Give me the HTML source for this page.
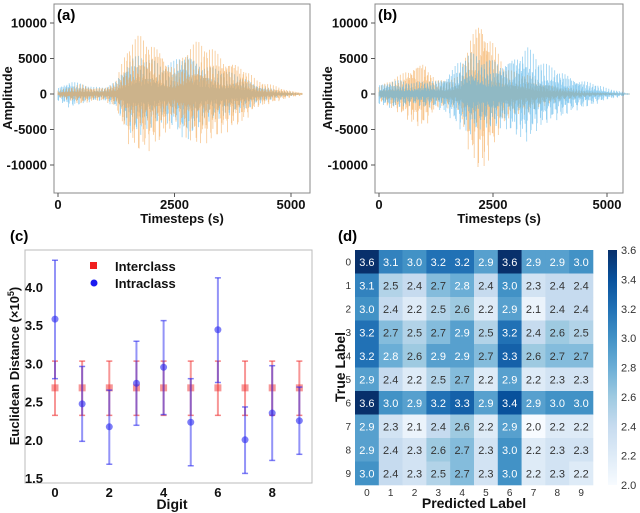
<!DOCTYPE html>
<html><head><meta charset="utf-8"><style>
html,body{margin:0;padding:0;background:#fff;}
svg{display:block;font-family:"Liberation Sans",Arial,sans-serif;}
.tk{font-size:13px;font-weight:bold;fill:#111;}
.lab{font-size:13px;font-weight:bold;fill:#111;}
</style></head><body>
<svg id="fig" width="640" height="513" viewBox="0 0 640 513"></svg>
<script>
// ---------- data ----------
const waveStep = 250; // timesteps per envelope entry
const aBlueEnv = [1,2,1.5,1,1,2,5.5,6,5,4,5,7,5,4,3.5,3,2.5,1.5,1,0.5,0.3,0];
const aOrangeEnv = [0.5,1,1.5,1,1,2,7,8.5,8,6.5,4,6.5,7.5,7,6,5,4,2,1.5,1,0.5,0.2];
const bBlueEnv = [1.5,2,2,1.5,2,2,3,5,6,5,5,5,6,7,5,4,3.5,2.5,2,1.5,0.8,0.5,0];
const bOrangeEnv = [1,2,3,4.5,5,2,2,2.5,9,12,8,4,3,3,2,1.5,1,0.8,0.5,0.3,0.2,0.1,0.05];
const waveXTicks = [0,2500,5000];
const waveYTicks = [10000,5000,0,-5000,-10000];

const digits = [0,1,2,3,4,5,6,7,8,9];
const interMean = [2.68,2.68,2.68,2.68,2.68,2.68,2.68,2.68,2.68,2.68];
const interLo = [2.32,2.32,2.32,2.32,2.32,2.32,2.32,2.32,2.32,2.32];
const interHi = [3.03,3.03,3.03,3.03,3.03,3.03,3.03,3.03,3.03,3.03];
const intraMean = [3.58,2.47,2.17,2.74,2.95,2.23,3.44,2.0,2.35,2.25];
const intraLo = [2.8,1.98,1.68,2.19,2.33,1.66,2.75,1.56,1.73,1.81];
const intraHi = [4.35,2.96,2.65,3.29,3.56,2.8,4.12,2.43,2.97,2.69];
const cXTicks = [0,2,4,6,8];
const cYTicks = [1.5,2.0,2.5,3.0,3.5,4.0];

const heatLabels = [0,1,2,3,4,5,6,7,8,9];
const heatVals = [
 [3.6,3.1,3.0,3.2,3.2,2.9,3.6,2.9,2.9,3.0],
 [3.1,2.5,2.4,2.7,2.8,2.4,3.0,2.3,2.4,2.4],
 [3.0,2.4,2.2,2.5,2.6,2.2,2.9,2.1,2.4,2.4],
 [3.2,2.7,2.5,2.7,2.9,2.5,3.2,2.4,2.6,2.5],
 [3.2,2.8,2.6,2.9,2.9,2.7,3.3,2.6,2.7,2.7],
 [2.9,2.4,2.2,2.5,2.7,2.2,2.9,2.2,2.3,2.3],
 [3.6,3.0,2.9,3.2,3.3,2.9,3.4,2.9,3.0,3.0],
 [2.9,2.3,2.1,2.4,2.6,2.2,2.9,2.0,2.2,2.2],
 [2.9,2.4,2.3,2.6,2.7,2.3,3.0,2.2,2.3,2.3],
 [3.0,2.4,2.3,2.5,2.7,2.3,3.0,2.2,2.3,2.2]];
const cbTicks = [3.6,3.4,3.2,3.0,2.8,2.6,2.4,2.2,2.0];

// ---------- helpers ----------
const NS="http://www.w3.org/2000/svg";
const svg=document.getElementById('fig');
function el(tag,attrs,parent,text){const e=document.createElementNS(NS,tag);for(const k in attrs)e.setAttribute(k,attrs[k]);if(text!==undefined)e.textContent=text;(parent||svg).appendChild(e);return e;}

// ---------- waveform panels ----------
function wavePanel(px,box,x0,x5000,blue,orange,letter,orangeFirst){
  const g=el('g',{});
  
  
  const sx=t=>x0+(x5000-x0)*t/5000;
  const sy=v=>94-v*7.1/1000;
  const frame=el('rect',{x:box[0],y:box[1],width:box[2]-box[0],height:box[3]-box[1],fill:'none',stroke:'#888','stroke-width':1},g);
  
  
  function series(env,color,name,phase){
    const sg=el('g',{stroke:color,'stroke-width':0.8,opacity:0.6},g);
    
    
    let d='';
    const maxT=(env.length-1)*waveStep;
    for(let t=0;t<=maxT;t+=12){
      const i=Math.min(Math.floor(t/waveStep),env.length-2);
      const f=(t-i*waveStep)/waveStep;
      const e=(env[i]*(1-f)+env[i+1]*f)*1000;
      const m1=0.2+0.8*Math.pow(Math.abs(Math.sin(t*0.37+phase)*Math.cos(t*0.053)),1.1);
      const m2=0.2+0.8*Math.pow(Math.abs(Math.cos(t*0.29+phase)*Math.sin(t*0.071+1)),1.1);
      d+=`M${sx(t).toFixed(1)},${sy(e*m1).toFixed(1)}V${sy(-e*m2).toFixed(1)}`;
    }
    el('path',{d:d,fill:'none'},sg);
    el('line',{x1:sx(0),x2:sx(maxT),y1:sy(0),y2:sy(0)},sg);
  }
  if(orangeFirst){series(orange,'#f3a248','orange-series',1.3);series(blue,'#4db0e8','blue-series',0);}
  else{series(blue,'#4db0e8','blue-series',0);series(orange,'#f3a248','orange-series',1.3);}
  waveXTicks.forEach(v=>{
    el('line',{x1:sx(v),x2:sx(v),y1:box[3],y2:box[3]+4,stroke:'#555'},g);
    const t=el('text',{x:sx(v),y:box[3]+16,'text-anchor':'middle',class:'tk'},g,v);
    
    
  });
  waveYTicks.forEach(v=>{
    el('line',{x1:box[0]-4,x2:box[0],y1:sy(v),y2:sy(v),stroke:'#555'},g);
    const t=el('text',{x:box[0]-7,y:sy(v)+4.5,'text-anchor':'end',class:'tk'},g,v);
    
    
  });
  const xl=el('text',{x:(box[0]+box[2])/2,y:223,'text-anchor':'middle',class:'lab'},g,'Timesteps (s)');
  
  
  const yl=el('text',{x:0,y:0,'text-anchor':'middle',class:'lab',transform:`translate(${px+12},98) rotate(-90)`},g,'Amplitude');
  
  
  const pl=el('text',{x:box[0]+3,y:20,style:'font-size:15px;font-weight:bold'},g,'('+letter+')');
  
  
}
wavePanel(0,[54,4,310,193],58,291,aBlueEnv,aOrangeEnv,'a',false);
wavePanel(320,[375,4,623,193],379,607,bBlueEnv,bOrangeEnv,'b',true);

// ---------- panel c ----------
(function(){
  const g=el('g',{});
  
  
  const sx=d=>55+d*27.15;
  const sy=v=>478-(v-1.5)*76.4;
  const fr=el('rect',{x:25,y:250,width:287,height:233,fill:'none',stroke:'#bbb'},g);
  
  
  function bars(mean,lo,hi,color,name,marker){
    const sg=el('g',{},g);
    
    
    digits.forEach((d,i)=>{
      const x=sx(d);
      el('line',{x1:x,x2:x,y1:sy(lo[i]),y2:sy(hi[i]),stroke:color,'stroke-width':2,opacity:0.5},sg);
      el('line',{x1:x-3,x2:x+3,y1:sy(lo[i]),y2:sy(lo[i]),stroke:color,'stroke-width':1.5,opacity:0.6},sg);
      el('line',{x1:x-3,x2:x+3,y1:sy(hi[i]),y2:sy(hi[i]),stroke:color,'stroke-width':1.5,opacity:0.6},sg);
      if(marker==='sq') el('rect',{x:x-3.5,y:sy(mean[i])-3.5,width:7,height:7,fill:color,opacity:0.5},sg);
      else el('circle',{cx:x,cy:sy(mean[i]),r:3.5,fill:color,opacity:0.6},sg);
    });
  }
  bars(interMean,interLo,interHi,'#f03030','interclass-errorbars','sq');
  bars(intraMean,intraLo,intraHi,'#2a2af0','intraclass-errorbars','ci');
  cXTicks.forEach(v=>{
    const t=el('text',{x:sx(v),y:497,'text-anchor':'middle',class:'tk'},g,v);
    
    
  });
  cYTicks.forEach(v=>{
    const t=el('text',{x:43,y:sy(v)+5,'text-anchor':'end',class:'tk'},g,v.toFixed(1));
    
    
  });
  const xl=el('text',{x:172,y:509,'text-anchor':'middle',class:'lab',style:'font-size:14px'},g,'Digit');
  
  
  const yl=el('text',{x:0,y:0,'text-anchor':'middle',class:'lab'},g);
  yl.setAttribute('transform','translate(19,366) rotate(-90)');
  yl.innerHTML='Euclidean Distance (×10<tspan dy="-5" font-size="9">5</tspan><tspan dy="5">)</tspan>';
  
  
  const lg=el('g',{},g);
  
  
  el('rect',{x:90,y:262,width:7,height:7,fill:'#f02020'},lg);
  const l1=el('text',{x:115,y:271,class:'lab'},lg,'Interclass');
  
  
  el('circle',{cx:94,cy:283,r:3.5,fill:'#1a1af0'},lg);
  const l2=el('text',{x:115,y:288,class:'lab'},lg,'Intraclass');
  
  
  const pl=el('text',{x:10,y:241,style:'font-size:15px;font-weight:bold'},g,'(c)');
  
  
})();

// ---------- panel d heatmap ----------
(function(){
  const stops=[[247,251,255],[222,235,247],[198,219,239],[158,202,225],[107,174,214],[66,146,198],[33,113,181],[8,81,156],[8,48,107]];
  const cmap=v=>{let t=Math.max(0,Math.min(1,(v-2.0)/1.6))*(stops.length-1);const i=Math.min(Math.floor(t),stops.length-2);const f=t-i;
    const c=stops[i].map((a,k)=>Math.round(a+(stops[i+1][k]-a)*f));return `rgb(${c[0]},${c[1]},${c[2]})`;};
  const g=el('g',{});
  
  
  const x0=355,y0=250,cw=23.8,ch=23.5;
  heatVals.forEach((row,r)=>row.forEach((v,c)=>{
    const cell=el('rect',{x:x0+c*cw,y:y0+r*ch,width:cw+0.3,height:ch+0.3,fill:cmap(v)},g);
    
    
    el('text',{x:x0+c*cw+cw/2,y:y0+r*ch+ch/2+4,'text-anchor':'middle',style:'font-size:11px',fill:v>=2.8?'#fff':'#333'},g,v.toFixed(1));
  }));
  heatLabels.forEach((l,i)=>{
    const t=el('text',{x:x0-4,y:y0+i*ch+ch/2+3.5,'text-anchor':'end',style:'font-size:10px',fill:'#333'},g,l);
    
    
    const t2=el('text',{x:x0+i*cw+cw/2,y:496,'text-anchor':'middle',style:'font-size:10px',fill:'#333'},g,l);
    
    
  });
  const xl=el('text',{x:474,y:508,'text-anchor':'middle',class:'lab',style:'font-size:14px'},g,'Predicted Label');
  
  
  const yl=el('text',{x:0,y:0,'text-anchor':'middle',class:'lab',style:'font-size:14px',transform:'translate(345,367) rotate(-90)'},g,'True Label');
  
  
  const defs=el('defs',{},g);
  const lgd=el('linearGradient',{id:'cbg',x1:0,y1:1,x2:0,y2:0},defs);
  stops.forEach((s,i)=>el('stop',{offset:i/(stops.length-1),'stop-color':`rgb(${s})`},lgd));
  const cb=el('rect',{x:608,y:250,width:9,height:235,fill:'url(#cbg)'},g);
  
  
  cbTicks.forEach(v=>{
    const y=485-(v-2.0)/1.6*235;
    const t=el('text',{x:621,y:y+4,style:'font-size:11px',fill:'#333'},g,v.toFixed(1));
    
    
  });
  const pl=el('text',{x:338,y:241,style:'font-size:15px;font-weight:bold'},g,'(d)');
  
  
})();
</script>
</body></html>
